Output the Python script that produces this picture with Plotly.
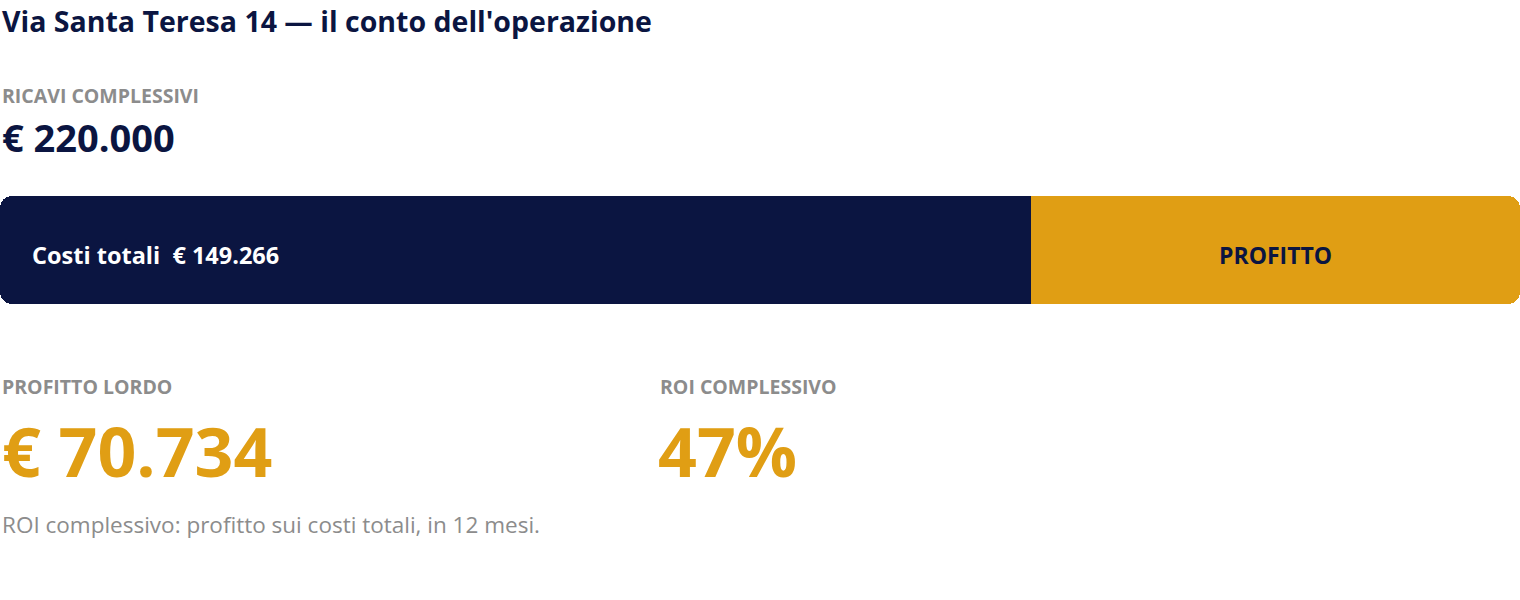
import plotly.graph_objects as go

# dati dell'operazione
titolo = "Via Santa Teresa 14 — il conto dell'operazione"
voci = ["Costi totali", "PROFITTO"]
valori = [149266, 70734]
ricavi = 220000
roi_pct = 47
mesi = 12

NAVY = "#0B1541"
GOLD = "#E09E14"
GREY = "#8C8C8C"
FONT = "Open Sans"

W, H = 1520, 600


def eur(v):
    return "€ " + f"{v:,}".replace(",", ".")


def py(px):
    # pixel dall'alto -> coordinata paper
    return 1 - px / H


fig = go.Figure()

# barmode relative: i costi vanno a sinistra dello zero, il profitto a destra,
# cosi' ognuno ha l'estremo esterno arrotondato
fig.add_trace(go.Bar(
    y=[0], x=[-valori[0]], orientation='h',
    marker=dict(color=NAVY, line=dict(width=0)),
    hoverinfo='skip', showlegend=False,
))
fig.add_trace(go.Bar(
    y=[0], x=[valori[1]], orientation='h',
    marker=dict(color=GOLD, line=dict(width=0)),
    hoverinfo='skip', showlegend=False,
))

bar_top, bar_bot = 196, 304

fig.update_layout(
    width=W, height=H,
    margin=dict(l=0, r=0, t=0, b=0),
    paper_bgcolor='white', plot_bgcolor='white',
    barmode='relative', bargap=0, barcornerradius=12,
    font=dict(family=FONT),
    xaxis=dict(range=[-valori[0], valori[1]], visible=False, fixedrange=True),
    yaxis=dict(range=[-0.5, 0.5], visible=False, fixedrange=True,
               domain=[py(bar_bot), py(bar_top)]),
)


def testo(txt, x, y, size, color, bold=True):
    fig.add_annotation(
        text=f"<b>{txt}</b>" if bold else txt,
        x=x, y=py(y), xref='paper', yref='paper',
        xanchor='left', yanchor='middle', showarrow=False,
        font=dict(family=FONT, size=size, color=color),
    )


testo(titolo, 0, 21, 28.5, NAVY)
testo("RICAVI COMPLESSIVI", 0, 95, 19.5, GREY)
testo(eur(ricavi), 0, 137, 38, NAVY)

# etichette sulla barra
fig.add_annotation(
    text=f"<b>{voci[0]}  {eur(valori[0])}</b>", x=-valori[0], y=0, xref='x', yref='y',
    xanchor='left', xshift=30, yshift=-5, showarrow=False,
    font=dict(family=FONT, size=23.5, color='white'),
)
fig.add_annotation(
    text=f"<b>{voci[1]}</b>", x=valori[1] / 2, y=0, xref='x', yref='y',
    xanchor='center', yshift=-5, showarrow=False,
    font=dict(family=FONT, size=23, color=NAVY),
)

testo("PROFITTO LORDO", 0, 386, 19.5, GREY)
testo(eur(valori[1]), 0, 450, 68, GOLD)
testo("ROI COMPLESSIVO", 658 / W, 386, 19.5, GREY)
testo(f"{roi_pct}%", 656 / W, 450, 68, GOLD)
testo(f"ROI complessivo: profitto sui costi totali, in {mesi} mesi.", 0, 524, 22.5, GREY, bold=False)

fig.write_html("out.html", config=dict(displayModeBar=False),
               post_script="document.body.style.margin='0';")
